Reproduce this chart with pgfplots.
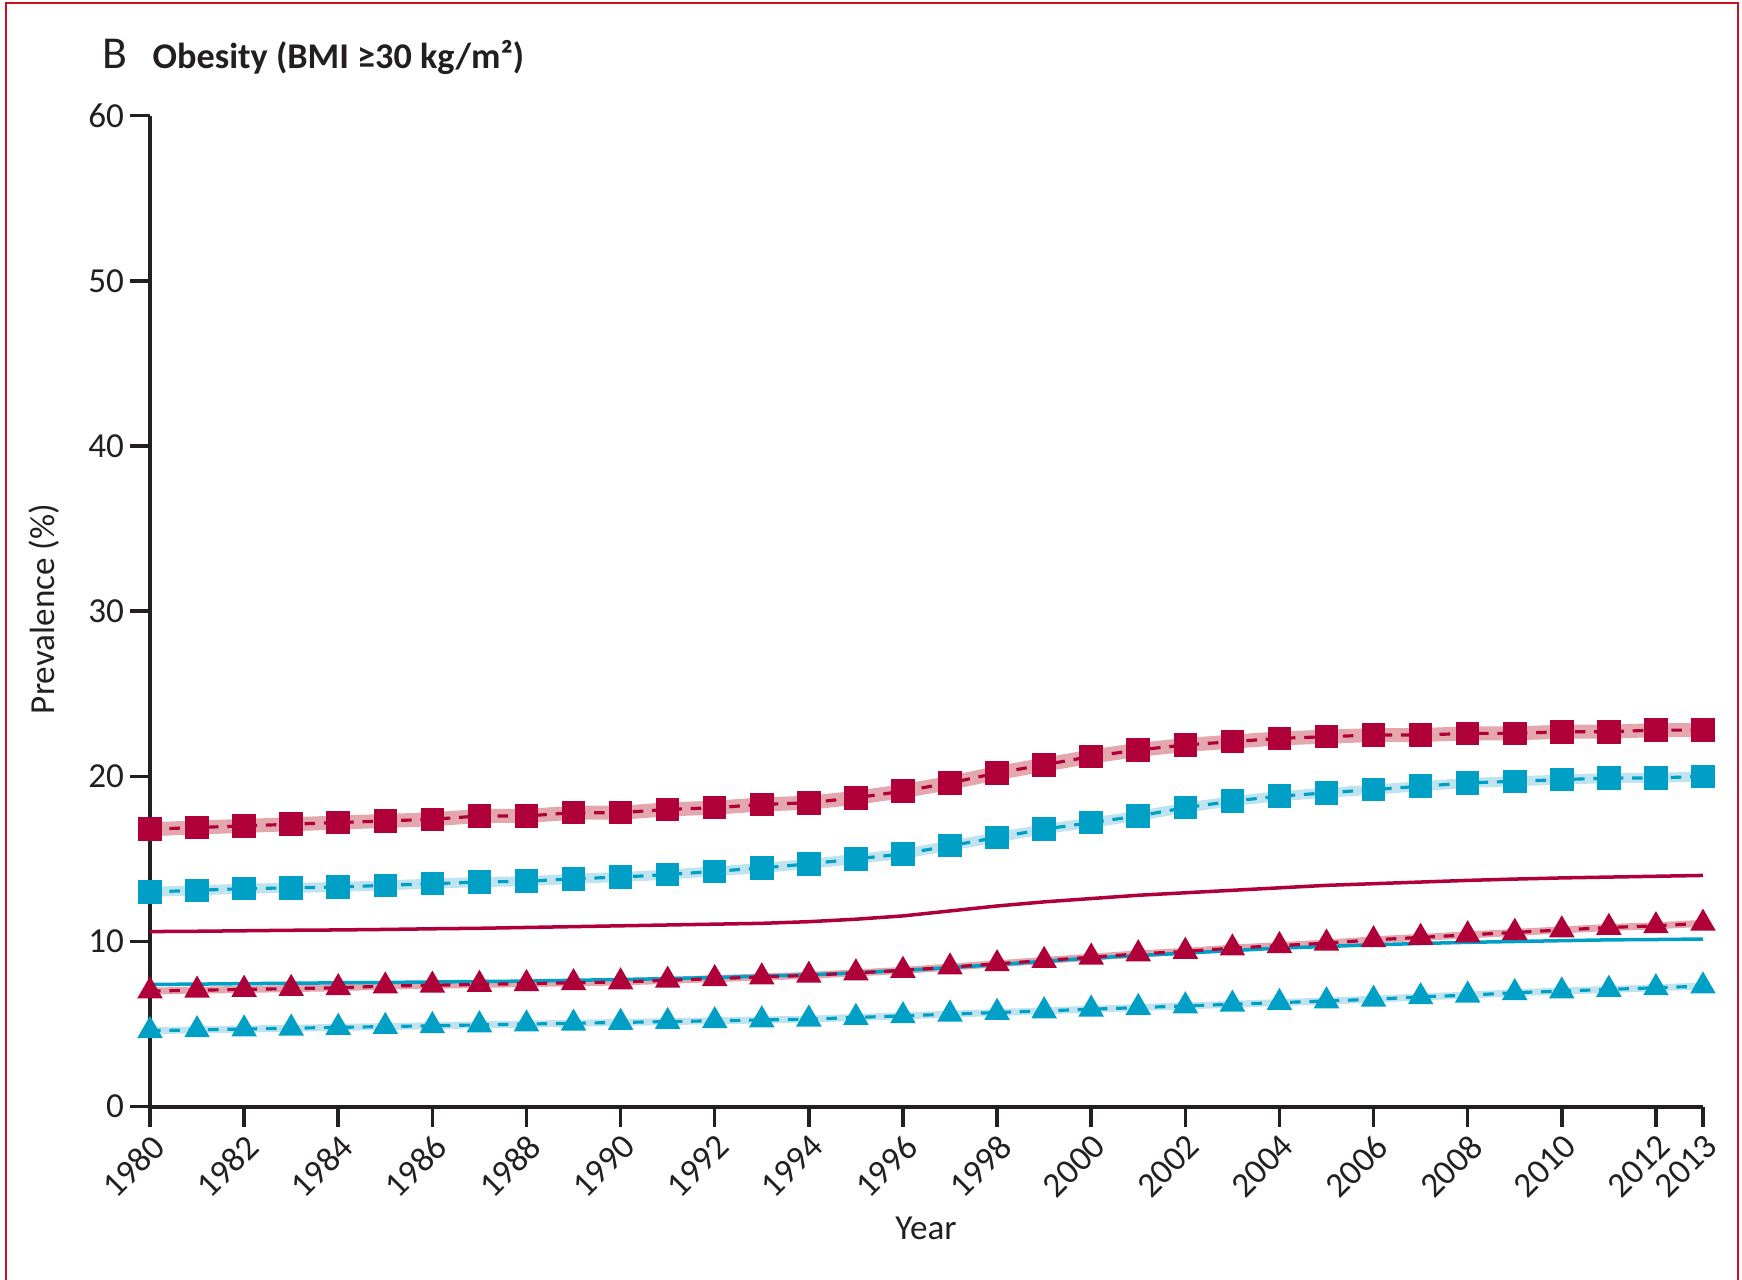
\documentclass[border=0pt]{standalone}
\usepackage{fontspec}
\setmainfont{Carlito}
\usepackage{pgfplots}
\usepackage{pgfplotstable}
\pgfplotsset{compat=1.18}

\definecolor{lred}{HTML}{B0003A}
\definecolor{lblue}{HTML}{00A0C6}
\definecolor{bandred}{HTML}{E3A7AD}
\definecolor{bandblue}{HTML}{BFE4F0}
\definecolor{axisblack}{HTML}{231F20}
\definecolor{framered}{HTML}{C8101E}

\pgfplotstableread{
year rs bs rl bl rt bt
1980 16.8 13.0 10.60 7.40 7.00 4.60
1981 16.9 13.1 10.62 7.42 7.05 4.65
1982 17.0 13.2 10.65 7.45 7.10 4.70
1983 17.1 13.25 10.68 7.47 7.15 4.75
1984 17.2 13.3 10.70 7.50 7.20 4.80
1985 17.3 13.4 10.73 7.52 7.30 4.85
1986 17.4 13.5 10.77 7.55 7.35 4.90
1987 17.6 13.6 10.80 7.58 7.40 4.95
1988 17.6 13.65 10.85 7.60 7.45 5.00
1989 17.8 13.8 10.90 7.65 7.50 5.05
1990 17.8 13.9 10.95 7.70 7.55 5.10
1991 18.0 14.05 11.00 7.75 7.65 5.15
1992 18.1 14.25 11.05 7.82 7.75 5.20
1993 18.3 14.45 11.10 7.90 7.85 5.25
1994 18.4 14.7 11.20 7.98 7.95 5.30
1995 18.7 15.0 11.35 8.10 8.10 5.40
1996 19.1 15.3 11.55 8.25 8.25 5.50
1997 19.6 15.8 11.85 8.42 8.45 5.60
1998 20.2 16.3 12.15 8.60 8.65 5.70
1999 20.7 16.8 12.40 8.80 8.85 5.80
2000 21.2 17.2 12.60 9.00 9.05 5.90
2001 21.6 17.6 12.80 9.15 9.25 6.00
2002 21.9 18.1 12.95 9.30 9.40 6.10
2003 22.1 18.5 13.10 9.45 9.60 6.20
2004 22.3 18.8 13.25 9.60 9.75 6.30
2005 22.4 19.0 13.40 9.70 9.90 6.40
2006 22.5 19.2 13.50 9.80 10.10 6.50
2007 22.5 19.4 13.60 9.88 10.25 6.65
2008 22.6 19.6 13.70 9.95 10.40 6.75
2009 22.6 19.7 13.78 10.00 10.55 6.90
2010 22.7 19.8 13.85 10.05 10.70 7.00
2011 22.7 19.9 13.90 10.10 10.85 7.10
2012 22.8 19.9 13.95 10.12 10.95 7.20
2013 22.8 20.0 14.00 10.15 11.10 7.30
}\data

\begin{document}
\begin{tikzpicture}
\path[use as bounding box] (0,0) rectangle (174.2mm,128mm);
\draw[framered, line width=0.25mm] (0.6mm,0) -- (0.6mm,127.7mm) -- (173.8mm,127.7mm) -- (173.8mm,0);
\node[anchor=base west, inner sep=0, text=axisblack] at (10.2mm,121.1mm) {\fontsize{13}{13}\selectfont B};
\node[anchor=base west, inner sep=0, text=axisblack] at (15.2mm,121.1mm) {\fontsize{10.3}{12}\selectfont\bfseries Obesity (BMI ≥30 kg/m²)};
\begin{axis}[
  at={(15mm,17.33mm)}, anchor=south west,
  scale only axis, width=155.3mm, height=99.1mm,
  xmin=1980, xmax=2013, ymin=0, ymax=60,
  axis x line*=bottom, axis y line*=left,
  axis line style={line width=1.2pt, color=axisblack},
  xtick={1980,1982,...,2012,2013}, ytick={0,10,...,60},
  tick align=outside, major tick length=2mm,
  tick style={line width=1pt, color=axisblack},
  tick label style={font=\fontsize{10}{12}\selectfont, color=axisblack},
  x tick label style={rotate=45, anchor=north east, inner sep=1pt, /pgf/number format/1000 sep={}},
  y tick label style={inner sep=1.5pt},
  /pgf/number format/assume math mode=true,
  clip=false,
]
\addplot[mark=none, line width=1.4mm, bandred] table[x=year,y=rs]{\data};
\addplot[mark=none, line width=1.0mm, bandblue] table[x=year,y=bs]{\data};
\addplot[mark=none, line width=0.7mm, bandred] table[x=year,y=rt]{\data};
\addplot[mark=none, line width=0.7mm, bandblue] table[x=year,y=bt]{\data};
\addplot[mark=none, line width=1.0pt, lred] table[x=year,y=rl]{\data};
\addplot[mark=none, line width=1.0pt, lblue] table[x=year,y=bl]{\data};
\addplot[lred, line width=0.9pt, dash pattern=on 3pt off 2.5pt, mark=square*, mark size=2.9pt, mark options={solid}] table[x=year,y=rs]{\data};
\addplot[lblue, line width=0.9pt, dash pattern=on 3pt off 2.5pt, mark=square*, mark size=2.9pt, mark options={solid}] table[x=year,y=bs]{\data};
\addplot[lred, line width=0.9pt, dash pattern=on 3pt off 2.5pt, mark=triangle*, mark size=3.3pt, mark options={solid}] table[x=year,y=rt]{\data};
\addplot[lblue, line width=0.9pt, dash pattern=on 3pt off 2.5pt, mark=triangle*, mark size=3.3pt, mark options={solid}] table[x=year,y=bt]{\data};
\end{axis}
\node[text=axisblack, font=\fontsize{10}{12}\selectfont] at (92.6mm,5.2mm) {Year};
\node[text=axisblack, font=\fontsize{10}{12}\selectfont, rotate=90] at (4.4mm,67.1mm) {Prevalence (\%)};
\end{tikzpicture}
\end{document}
